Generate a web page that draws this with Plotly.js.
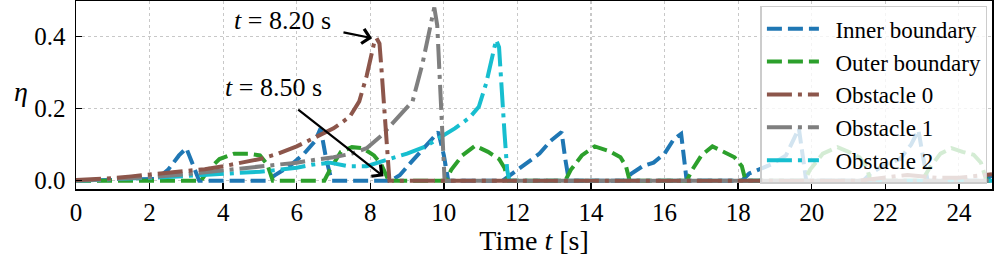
<!DOCTYPE html>
<html>
<head>
<meta charset="utf-8">
<script src="https://cdn.plot.ly/plotly-3.0.1.min.js"></script>
<style>html,body{margin:0;padding:0;background:#fff;}#chart{width:997px;height:259px;}</style>
</head>
<body>
<div id="chart"></div>
<script>
// ---- data ----
const seriesNames = ["Inner boundary", "Outer boundary", "Obstacle 0", "Obstacle 1", "Obstacle 2"];

const innerT   = [0, 2.2, 2.5, 2.8, 3.0, 3.15, 3.35, 5.2, 5.4, 5.8, 6.2, 6.5, 6.65, 6.8, 6.95, 8.55, 8.8, 9.1, 9.5, 9.85, 10.0, 10.12, 11.6, 11.8, 12.3, 12.6, 12.9, 13.2, 13.3, 13.4, 14.9, 15.1, 15.4, 15.7, 16.0, 16.25, 16.45, 16.6, 18.1, 18.3, 18.9, 19.3, 19.65, 19.75, 19.85, 21.4, 21.6, 22.0, 22.4, 22.7, 22.9, 23.0, 23.15, 24.7, 24.9];
const innerEta = [0, 0.005, 0.03, 0.07, 0.09, 0.05, 0, 0, 0.015, 0.04, 0.075, 0.11, 0.145, 0.06, 0, 0, 0.015, 0.05, 0.095, 0.135, 0.07, 0, 0, 0.015, 0.05, 0.075, 0.11, 0.135, 0.06, 0, 0, 0.02, 0.04, 0.05, 0.075, 0.115, 0.13, 0, 0, 0.02, 0.045, 0.07, 0.145, 0.07, 0, 0, 0.02, 0.045, 0.06, 0.1, 0.14, 0.08, 0, 0, 0.015];

const outerT   = [0, 3.4, 3.6, 3.9, 4.3, 4.7, 5.0, 5.2, 5.35, 6.75, 6.9, 7.2, 7.5, 7.8, 8.1, 8.3, 8.5, 10.05, 10.2, 10.5, 10.85, 11.2, 11.5, 11.65, 11.75, 13.3, 13.45, 13.75, 14.1, 14.5, 14.8, 14.95, 15.05, 16.6, 16.75, 17.0, 17.3, 17.6, 17.9, 18.1, 18.2, 19.8, 19.95, 20.3, 20.7, 21.0, 21.3, 21.5, 21.6, 23.0, 23.2, 23.5, 23.8, 24.1, 24.4, 24.6, 24.75, 24.9];
const outerEta = [0, 0, 0.03, 0.06, 0.075, 0.075, 0.07, 0.045, 0, 0, 0.03, 0.08, 0.093, 0.09, 0.07, 0.045, 0, 0, 0.03, 0.07, 0.097, 0.08, 0.06, 0.035, 0, 0, 0.03, 0.07, 0.095, 0.082, 0.065, 0.04, 0, 0, 0.03, 0.07, 0.095, 0.08, 0.065, 0.04, 0, 0, 0.03, 0.075, 0.093, 0.08, 0.065, 0.035, 0, 0, 0.035, 0.075, 0.09, 0.08, 0.072, 0.05, 0, 0];

const obs0T   = [0, 0.5, 1.0, 1.5, 2.0, 2.5, 3.0, 3.5, 4.0, 4.5, 5.0, 5.5, 6.0, 6.5, 7.0, 7.44, 7.7, 7.9, 8.0, 8.1, 8.17, 8.25, 8.3, 8.38, 8.47, 8.52, 21.3, 21.7, 22.1, 22.6, 23.0, 23.4, 24.0, 24.5, 24.9];
const obs0Eta = [0.002, 0.004, 0.007, 0.012, 0.018, 0.022, 0.027, 0.032, 0.04, 0.05, 0.06, 0.075, 0.095, 0.12, 0.145, 0.177, 0.22, 0.29, 0.34, 0.38, 0.395, 0.38, 0.315, 0.195, 0.04, 0, 0, 0.004, 0.01, 0.016, 0.012, 0.008, 0.008, 0.013, 0.018];

const obs1T   = [0, 1, 2, 3, 4, 5, 5.5, 6.0, 6.5, 7.0, 7.5, 7.9, 8.3, 8.9, 9.15, 9.42, 9.6, 9.74, 9.82, 9.9, 9.97, 10.02, 24.9];
const obs1Eta = [0, 0.005, 0.01, 0.018, 0.028, 0.04, 0.045, 0.05, 0.058, 0.065, 0.075, 0.09, 0.125, 0.195, 0.22, 0.325, 0.41, 0.48, 0.43, 0.25, 0.09, 0, 0];

const obs2T   = [0, 1, 2, 3, 4, 5, 5.5, 6.0, 6.4, 6.9, 7.4, 7.9, 8.45, 9.0, 9.5, 9.9, 10.3, 10.7, 10.95, 11.15, 11.3, 11.42, 11.5, 11.58, 11.65, 11.72, 11.78, 24.9];
const obs2Eta = [0, 0.003, 0.008, 0.013, 0.018, 0.025, 0.03, 0.036, 0.044, 0.05, 0.04, 0.04, 0.058, 0.075, 0.095, 0.12, 0.145, 0.175, 0.205, 0.27, 0.34, 0.39, 0.37, 0.26, 0.13, 0.03, 0, 0];

const xTicks = [0, 2, 4, 6, 8, 10, 12, 14, 16, 18, 20, 22, 24];
const yTicks = [0.0, 0.2, 0.4];

// annotations (label, text position, arrow tail, arrow head) in data units
const noteLabels = ["<i>t</i> = 8.20 s", "<i>t</i> = 8.50 s"];
const noteTextT = [5.6, 5.38];
const noteTextEta = [0.445, 0.257];
const noteTailT = [7.23, 6.0];
const noteTailEta = [0.412, 0.2];
const noteHeadT = [8.05, 8.36];
const noteHeadEta = [0.395, 0.012];

// ---- styling ----
const FONT = "Liberation Serif, DejaVu Serif, serif";
const colors = ["#1f77b4", "#2ca02c", "#8c564b", "#7f7f7f", "#17becf"];
const dashes = ["15px,6px", "15px,6px", "25px,6px,4px,6px", "25px,6px,4px,6px", "25px,6px,4px,6px"];
const xs = [innerT, outerT, obs0T, obs1T, obs2T];
const ys = [innerEta, outerEta, obs0Eta, obs1Eta, obs2Eta];
const drawOrder = [0, 1, 4, 3, 2];

const traces = drawOrder.map(i => ({
  type: "scatter", mode: "lines", name: "\u2002" + seriesNames[i],
  x: xs[i], y: ys[i], legendrank: i + 1,
  line: {color: colors[i], width: 4, dash: dashes[i]}
}));

const annotations = [];
for (let k = 0; k < noteLabels.length; k++) {
  annotations.push({x: noteTextT[k], y: noteTextEta[k], xref: "x", yref: "y", text: noteLabels[k],
    showarrow: false, font: {family: FONT, size: 26, color: "#000"}});
  annotations.push({x: noteHeadT[k], y: noteHeadEta[k], xref: "x", yref: "y", ax: noteTailT[k], ay: noteTailEta[k],
    axref: "x", ayref: "y", text: "", showarrow: true, arrowhead: 4, arrowsize: 1.3, arrowwidth: 2.2, arrowcolor: "#000", standoff: 0, startstandoff: 0});
}
annotations.push({x: -0.07, y: 0.52, xref: "paper", yref: "paper", text: "<i>η</i>", showarrow: false,
  font: {family: FONT, size: 28, color: "#000"}});

const layout = {
  width: 997, height: 259,
  margin: {l: 76, r: 5, t: 1, b: 70},
  paper_bgcolor: "#fff", plot_bgcolor: "#fff",
  font: {family: FONT, size: 22, color: "#000"},
  showlegend: true,
  legend: {x: 0.995, y: 0.975, xanchor: "right", yanchor: "top", bgcolor: "rgba(255,255,255,0.8)",
    bordercolor: "#cccccc", borderwidth: 1.5, font: {family: FONT, size: 23, color: "#000"},
    itemwidth: 52, tracegroupgap: 0},
  xaxis: {range: [0, 24.9], tickvals: xTicks, ticktext: xTicks.map(String), ticks: "inside", ticklen: 6, tickwidth: 1.5,
    tickcolor: "#000", showline: true, mirror: true, linecolor: "#000", linewidth: 1.5,
    showgrid: true, gridcolor: "#c8c8c8", griddash: "dot", gridwidth: 1.2, zeroline: false,
    tickfont: {family: FONT, size: 25}, ticklabelstandoff: 0,
    title: {text: "Time <i>t</i> [s]", font: {family: FONT, size: 28}, standoff: 2}},
  yaxis: {range: [-0.023, 0.498], tickvals: yTicks, ticktext: yTicks.map(v => v.toFixed(1)), ticks: "inside", ticklen: 6, tickwidth: 1.5,
    tickcolor: "#000", showline: true, mirror: true, linecolor: "#000", linewidth: 1.5,
    showgrid: true, gridcolor: "#c8c8c8", griddash: "dot", gridwidth: 1.2, zeroline: false,
    tickfont: {family: FONT, size: 25}, ticklabelstandoff: 4},
  annotations: annotations
};

Plotly.newPlot("chart", traces, layout, {staticPlot: true, displayModeBar: false});
</script>
</body>
</html>
